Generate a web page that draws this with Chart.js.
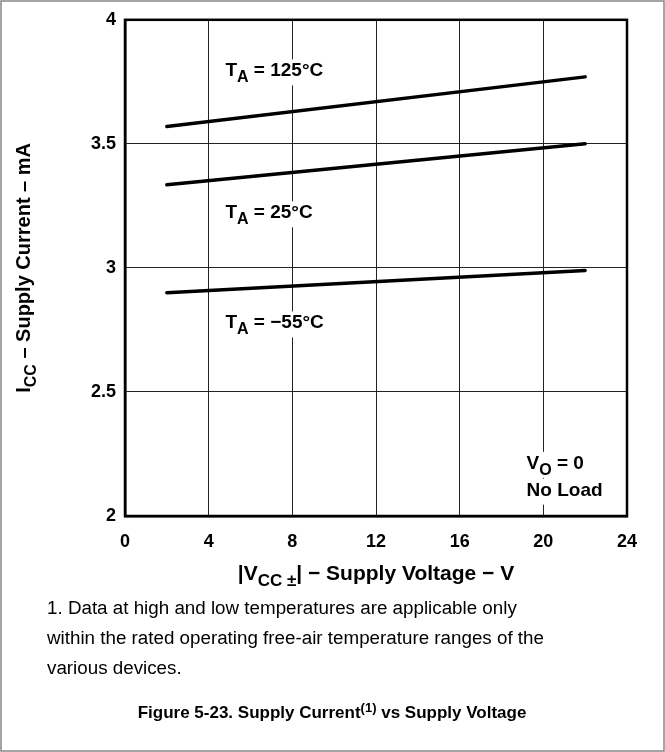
<!DOCTYPE html>
<html>
<head>
<meta charset="utf-8">
<script src="https://cdn.jsdelivr.net/npm/chart.js@4/dist/chart.umd.min.js"></script>
<style>
  html, body { margin: 0; padding: 0; background: #fff; }
  #wrap { width: 665px; height: 752px; position: relative; }
</style>
</head>
<body>
<div id="wrap"><canvas id="chart" width="665" height="752"></canvas></div>
<script>
// supply voltage (V) and supply current (mA) per temperature
const voltage = [2, 22];
const icc125 = [3.57, 3.77];
const icc25 = [3.335, 3.50];
const iccMinus55 = [2.90, 2.99];

const xTicks = [0, 4, 8, 12, 16, 20, 24];
const yTicks = [2, 2.5, 3, 3.5, 4];

const toPoints = (ys) => voltage.map((v, i) => ({ x: v, y: ys[i] }));

const FONT = '"Liberation Sans", Arial, sans-serif';

// draw runs of text, some sub/superscripted
function drawRuns(ctx, runs, x, y, size, bold, align, small) {
    const weight = bold ? 'bold ' : '';
    small = small || Math.round(size * 0.78);
    let total = 0;
    runs.forEach(r => {
        ctx.font = weight + (r.sub || r.sup ? small : size) + 'px ' + FONT;
        r.w = ctx.measureText(r.t).width;
        total += r.w;
    });
    let cx = x;
    if (align === 'center') cx = x - total / 2;
    if (align === 'right') cx = x - total;
    ctx.textBaseline = 'alphabetic';
    ctx.textAlign = 'left';
    runs.forEach(r => {
        ctx.font = weight + (r.sub || r.sup ? small : size) + 'px ' + FONT;
        let dy = 0;
        if (r.sub) dy = size * 0.3;
        if (r.sup) dy = -size * 0.38;
        ctx.fillText(r.t, cx, y + dy);
        cx += r.w;
    });
    return total;
}

const labelsPlugin = {
    id: 'labels',
    afterDraw(chart) {
        const ctx = chart.ctx;
        const xs = chart.scales.x, ys = chart.scales.y;
        const area = chart.chartArea;
        ctx.save();
        ctx.fillStyle = '#000';

        // in-plot labels with white backing
        const notes = [
            { x: 4.8, y: 3.772, runs: [{ t: 'T' }, { t: 'A', sub: true }, { t: ' = 125°C' }] },
            { x: 4.8, y: 3.2, runs: [{ t: 'T' }, { t: 'A', sub: true }, { t: ' = 25°C' }] },
            { x: 4.8, y: 2.756, runs: [{ t: 'T' }, { t: 'A', sub: true }, { t: ' = −55°C' }] },
            { x: 19.2, y: 2.19, runs: [{ t: 'V' }, { t: 'O', sub: true }, { t: ' = 0' }] },
            { x: 19.2, y: 2.082, runs: [{ t: 'No Load' }] }
        ];
        notes.forEach(n => {
            const px = xs.getPixelForValue(n.x), py = ys.getPixelForValue(n.y);
            let w = 0;
            n.runs.forEach(r => {
                ctx.font = 'bold ' + (r.sub ? 16 : 19) + 'px ' + FONT;
                w += ctx.measureText(r.t).width;
            });
            ctx.fillStyle = '#fff';
            ctx.fillRect(px - 3, py - 17, w + 6, 26);
            ctx.fillStyle = '#000';
            drawRuns(ctx, n.runs, px, py, 19, true, 'left', 16);
        });

        // top and right frame
        ctx.strokeStyle = '#000';
        ctx.lineWidth = 2.5;
        ctx.strokeRect(area.left, area.top, area.right - area.left, area.bottom - area.top);

        // y axis title
        ctx.save();
        ctx.translate(30, (area.top + area.bottom) / 2);
        ctx.rotate(-Math.PI / 2);
        drawRuns(ctx, [{ t: 'I' }, { t: 'CC', sub: true }, { t: ' – Supply Current – mA' }], 0, 0, 20, true, 'center', 16);
        ctx.restore();

        // x axis title
        drawRuns(ctx, [{ t: '|V' }, { t: 'CC ±', sub: true }, { t: '| − Supply Voltage − V' }], 376, 580, 21, true, 'center', 17);

        // footnote
        ctx.font = '18.8px ' + FONT;
        ctx.textAlign = 'left';
        ctx.textBaseline = 'alphabetic';
        ctx.fillText('1. Data at high and low temperatures are applicable only', 47, 614);
        ctx.fillText('within the rated operating free-air temperature ranges of the', 47, 644);
        ctx.fillText('various devices.', 47, 674);

        // caption
        drawRuns(ctx, [{ t: 'Figure 5-23. Supply Current' }, { t: '(1)', sup: true }, { t: ' vs Supply Voltage' }], 332, 718, 17, true, 'center');

        // outer frame
        ctx.strokeStyle = '#888';
        ctx.lineWidth = 1.5;
        ctx.strokeRect(1, 1, 663, 750);
        ctx.restore();
    }
};

const lineStyle = { borderColor: '#000', borderWidth: 3.5, pointRadius: 0, showLine: true, fill: false, tension: 0, borderCapStyle: 'round' };

new Chart(document.getElementById('chart'), {
    type: 'scatter',
    data: {
        datasets: [
            Object.assign({ label: '125', data: toPoints(icc125) }, lineStyle),
            Object.assign({ label: '25', data: toPoints(icc25) }, lineStyle),
            Object.assign({ label: '-55', data: toPoints(iccMinus55) }, lineStyle)
        ]
    },
    options: {
        responsive: false,
        animation: false,
        layout: { padding: { top: 16, right: 38, left: 0, bottom: 0 } },
        plugins: { legend: { display: false }, tooltip: { enabled: false } },
        scales: {
            x: {
                type: 'linear',
                min: 0, max: 24,
                afterBuildTicks: (s) => { s.ticks = xTicks.map(v => ({ value: v })); },
                afterFit: (s) => { s.height = 236; },
                grid: { color: '#222', lineWidth: 1, drawTicks: false },
                border: { color: '#000', width: 2.5 },
                ticks: { color: '#000', padding: 15, font: { family: FONT, size: 18, weight: 'bold' }, callback: (v) => String(v) }
            },
            y: {
                type: 'linear',
                min: 2, max: 4,
                afterBuildTicks: (s) => { s.ticks = yTicks.map(v => ({ value: v })); },
                afterFit: (s) => { s.width = 125; },
                grid: { color: '#222', lineWidth: 1, drawTicks: false },
                border: { color: '#000', width: 2.5 },
                ticks: { color: '#000', padding: 9, font: { family: FONT, size: 18, weight: 'bold' }, callback: (v) => String(v) }
            }
        }
    },
    plugins: [labelsPlugin]
});
</script>
</body>
</html>
